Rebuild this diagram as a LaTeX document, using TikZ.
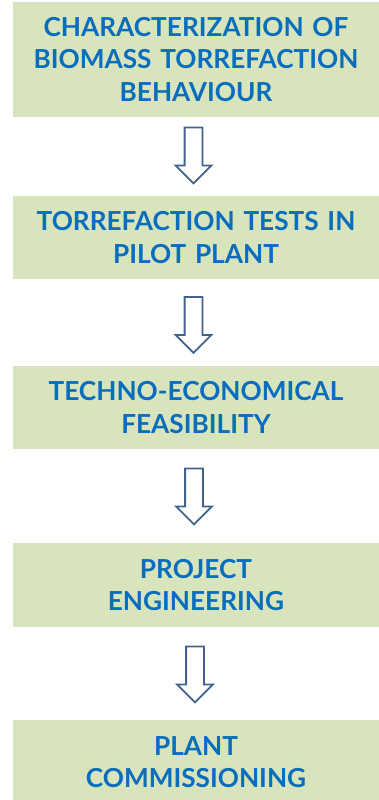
\documentclass[tikz,border=0pt]{standalone}
\usepackage{fontspec}
\setmainfont{Lato}
\usetikzlibrary{shapes.arrows}
\definecolor{boxfill}{HTML}{D8E4BC}
\definecolor{boxtext}{HTML}{0A6EBE}
\definecolor{arrowline}{HTML}{41628F}
\tikzset{
  stagebox/.style={fill=boxfill, draw=none, minimum width=366pt, text width=362pt,
    align=center, inner sep=0pt, text=boxtext,
    font=\fontsize{26.2pt}{32.5pt}\selectfont\bfseries},
  downarrow/.style={single arrow, draw=arrowline, fill=white, line width=1.8pt,
    rotate=-90, minimum height=56pt, inner xsep=0pt, inner ysep=8pt,
    single arrow head extend=9pt, single arrow tip angle=90}
}
\begin{document}
\begin{tikzpicture}[x=1pt,y=1pt]
\useasboundingbox (0,0) rectangle (379,-800);
\node[stagebox, minimum height=115pt] (s1) at (196,-59.5)
  {CHARACTERIZATION OF\\BIOMASS TORREFACTION\\BEHAVIOUR};
\node[stagebox, minimum height=83pt] (s2) at (196,-237.5)
  {TORREFACTION TESTS IN\\PILOT PLANT};
\node[stagebox, minimum height=83pt] (s3) at (196,-407.5)
  {TECHNO-ECONOMICAL\\FEASIBILITY};
\node[stagebox, minimum height=84pt] (s4) at (196,-585)
  {PROJECT\\ENGINEERING};
\node[stagebox, minimum height=84pt] (s5) at (196,-762)
  {PLANT\\COMMISSIONING};
\node[downarrow] (a1) at (193.5,-151) {};
\node[downarrow] (a2) at (193.5,-320.5) {};
\node[downarrow] (a3) at (194,-492) {};
\node[downarrow] (a4) at (195,-670) {};
\end{tikzpicture}
\end{document}
